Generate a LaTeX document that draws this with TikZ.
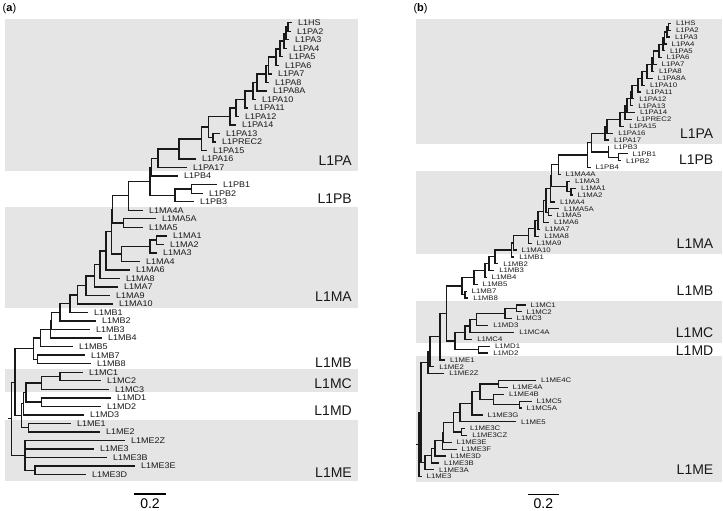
\documentclass[tikz,border=0pt]{standalone}
\usepackage{fontspec}
\setmainfont{Liberation Sans}
\newfontfamily\lblfa[FakeStretch=1.1]{Liberation Sans}
\newfontfamily\lblfb[FakeStretch=1.18]{Liberation Sans}
\definecolor{bandgray}{RGB}{229,229,229}
\definecolor{treeink}{RGB}{25,25,25}
\tikzset{
 br/.style={line width=1.4pt, draw=treeink},
 brb/.style={line width=1.25pt, draw=treeink},
 leafa/.style={anchor=west, inner xsep=6pt, inner ysep=0pt, outer sep=0pt, text=treeink, font=\lblfa\fontsize{8.2}{9}\selectfont},
 leafb/.style={anchor=west, inner xsep=5pt, inner ysep=0pt, outer sep=0pt, text=treeink, font=\lblfb\fontsize{6.6}{7}\selectfont},
 grp/.style={anchor=east, inner sep=0pt, text=treeink, font=\fontsize{14}{14}\selectfont},
 band/.style={fill=bandgray, draw=none},
 panel/.style={anchor=west, inner sep=0pt, font=\fontsize{11}{11}\selectfont},
 scl/.style={inner sep=0pt, font=\fontsize{14}{14}\selectfont},
 sbar/.style={line width=1.1pt},
}
\begin{document}
\begin{tikzpicture}[x=1pt,y=-1pt]
\fill[white] (0,0) rectangle (723,511);
\useasboundingbox (0,0) rectangle (723,511);
% ---------- bands (a)
\fill[band] (5,19) rectangle (358,170.7);
\fill[band] (5,207) rectangle (358,307.7);
\fill[band] (5,369) rectangle (358,392);
\fill[band] (5,420) rectangle (358,480.7);
% ---------- bands (b)
\fill[band] (416,19) rectangle (722,144);
\fill[band] (416,170.7) rectangle (722,254);
\fill[band] (416,300.7) rectangle (722,342.7);
\fill[band] (416,356) rectangle (722,481.7);
% ---------- panel labels
\node[panel] (pa) at (2.5,8.7) {(\textbf{a})};
\node[panel] (pb) at (413.3,8.7) {(\textbf{b})};
% ---------- group labels (a)
\node[grp] (gaPA) at (352,161) {L1PA};
\node[grp] (gaPB) at (352,199) {L1PB};
\node[grp] (gaMA) at (352,296.7) {L1MA};
\node[grp] (gaMB) at (352,362.7) {L1MB};
\node[grp] (gaMC) at (352,384) {L1MC};
\node[grp] (gaMD) at (352,410.7) {L1MD};
\node[grp] (gaME) at (352,472.7) {L1ME};
% ---------- group labels (b)
\node[grp] (gbPA) at (713.5,134) {L1PA};
\node[grp] (gbPB) at (713.5,160) {L1PB};
\node[grp] (gbMA) at (713.5,244) {L1MA};
\node[grp] (gbMB) at (713.5,290.7) {L1MB};
\node[grp] (gbMC) at (713.5,332.7) {L1MC};
\node[grp] (gbMD) at (713.5,351) {L1MD};
\node[grp] (gbME) at (713.5,469.3) {L1ME};
% ---------- scale bars
\coordinate (sa1) at (134,494); \coordinate (sa2) at (166,494);
\draw[sbar] (sa1) -- (sa2);
\node[scl] (sla) at (150,503.5) {0.2};
\coordinate (sb1) at (527.7,494.7); \coordinate (sb2) at (559,494.7);
\draw[sbar] (sb1) -- (sb2);
\node[scl] (slb) at (543.3,503.5) {0.2};
% ================= TREE (a) leaves
\foreach \n/\x/\y/\t in {
aHS/292/22.70/L1HS, aPA2/291/31.23/L1PA2, aPA3/289/39.75/L1PA3, aPA4/287/48.28/L1PA4,
aPA5/283/56.80/L1PA5, aPA6/279/65.33/L1PA6, aPA7/272/73.85/L1PA7, aPA8/269/82.38/L1PA8,
aPA8A/267/90.90/L1PA8A, aPA10/256/99.43/L1PA10, aPA11/248/107.95/L1PA11, aPA12/239/116.48/L1PA12,
aPA14/236/125.00/L1PA14, aPA13/220/133.53/L1PA13, aPREC2/216/142.05/L1PREC2, aPA15/207/150.58/L1PA15,
aPA16/196/159.10/L1PA16, aPA17/187/167.63/L1PA17, aPB4/178/176.15/L1PB4, aPB1/217/184.68/L1PB1,
aPB2/203/193.20/L1PB2, aPB3/194/201.73/L1PB3, aMA4A/143/210.25/L1MA4A, aMA5A/156/218.78/L1MA5A,
aMA5/143/227.30/L1MA5, aMA1/167/235.83/L1MA1, aMA2/164/244.35/L1MA2, aMA3/157/252.88/L1MA3,
aMA4/140/261.40/L1MA4, aMA6/130/269.93/L1MA6, aMA8/120/278.45/L1MA8, aMA7/118/286.98/L1MA7,
aMA9/110/295.50/L1MA9, aMA10/113/304.03/L1MA10, aMB1/88/312.55/L1MB1, aMB2/96/321.08/L1MB2,
aMB3/90/329.60/L1MB3, aMB4/102/338.13/L1MB4, aMB5/73/346.65/L1MB5, aMB7/85/355.18/L1MB7,
aMB8/91/363.70/L1MB8, aMC1/83/372.23/L1MC1, aMC2/101/380.75/L1MC2, aMC3/109/389.28/L1MC3,
aMD1/111/397.80/L1MD1, aMD2/101/406.33/L1MD2, aMD3/84/414.85/L1MD3, aME1/71/423.38/L1ME1,
aME2/100/431.90/L1ME2, aME2Z/125/440.43/L1ME2Z, aME3/94/448.95/L1ME3, aME3B/107/457.48/L1ME3B,
aME3E/135/466.00/L1ME3E, aME3D/86/474.53/L1ME3D}
  \node[leafa] (\n) at (\x,\y) {\t};
% internal nodes (a)
\foreach \n/\x/\y in {
aR0/8/418.79, aR/11.7/418.79, aA1/15/382.22, aE3/25/455.35, aE3DE/35/470.27,
aCDE/21.7/415.66, aCD2/23.3/403.67, aE12/28.3/427.64, aCD/26/392.48, aMC/41.7/382.89,
aMC12/60/376.49, aMD12/41.7/402.07, aMB/33.3/348.78, aMB78/37.3/359.44, aP2/40.7/338.11,
aP3/50.7/329.57, aP4/51.7/321.00, aP5/60/312.39, aP6/70/303.70, aP7/77.3/294.85,
aP8/86/285.66, aP9/94.3/275.81, aP10/100/264.63, aP11/106/250.81, aP12/111.7/231.68,
aP13/112.5/209.41, aMA5n/123.3/223.04, aMA14/121.7/253.95, aMA13/150/246.49, aMA12/156.7/240.09,
aQ/128.3/195.77, aR1/150/181.29, aPB/175/195.34, aPB12/191.7/188.94, aR2/151.7/167.23,
aN17/158/158.31, aN16/179/148.98, aN15/201.7/138.86, aN13/208.3/127.14, aREC/213/137.79,
aN14/230/116.48, aN12/236/107.96, aN11/245/99.44, aN10/253/90.92, aN8A/257/82.41,
aN8/266/73.92, aN7/268.3/65.46, aN6/276/57.07, aN5/280/48.81, aN4/284/40.82,
aN3/286/33.36, aN2/288/26.97}
  \coordinate (\n) at (\x,\y);
\draw[br] (aR0) -- (aR);
\foreach \p/\c in {
aR/aA1, aR/aE3, aE3/aME2Z, aE3/aME3, aE3/aME3B, aE3/aE3DE, aE3DE/aME3E, aE3DE/aME3D,
aA1/aMB, aA1/aCDE, aCDE/aCD2, aCDE/aE12, aE12/aME1, aE12/aME2, aCD2/aCD, aCD2/aMD3,
aCD/aMC, aCD/aMD12, aMC/aMC12, aMC/aMC3, aMC12/aMC1, aMC12/aMC2, aMD12/aMD1, aMD12/aMD2,
aMB/aMB78, aMB/aP2, aMB78/aMB7, aMB78/aMB8, aP2/aMB5, aP2/aP3, aP3/aMB4, aP3/aP4,
aP4/aMB3, aP4/aP5, aP5/aMB2, aP5/aP6, aP6/aMB1, aP6/aP7, aP7/aMA10, aP7/aP8,
aP8/aMA9, aP8/aP9, aP9/aMA7, aP9/aP10, aP10/aMA8, aP10/aP11, aP11/aMA6, aP11/aP12,
aP12/aP13, aP12/aMA14, aP13/aQ, aP13/aMA5n, aMA5n/aMA5A, aMA5n/aMA5, aMA14/aMA13, aMA14/aMA4,
aMA13/aMA12, aMA13/aMA3, aMA12/aMA1, aMA12/aMA2, aQ/aMA4A, aQ/aR1, aR1/aR2, aR1/aPB,
aPB/aPB12, aPB/aPB3, aPB12/aPB1, aPB12/aPB2, aR2/aN17, aR2/aPB4, aN17/aN16, aN17/aPA17,
aN16/aN15, aN16/aPA16, aN15/aN13, aN15/aPA15, aN13/aN14, aN13/aREC, aREC/aPA13, aREC/aPREC2,
aN14/aN12, aN14/aPA14, aN12/aN11, aN12/aPA12, aN11/aN10, aN11/aPA11, aN10/aN8A, aN10/aPA10,
aN8A/aN8, aN8A/aPA8A, aN8/aN7, aN8/aPA8, aN7/aN6, aN7/aPA7, aN6/aN5, aN6/aPA6,
aN5/aN4, aN5/aPA5, aN4/aN3, aN4/aPA4, aN3/aN2, aN3/aPA3, aN2/aHS, aN2/aPA2}
  \draw[br] (\p) |- (\c);
% ================= TREE (b) leaves
\foreach \n/\x/\y/\t in {
bHS/671/23.30/L1HS, bPA2/671/30.17/L1PA2, bPA3/670/37.04/L1PA3, bPA4/666.7/43.91/L1PA4,
bPA5/665/50.78/L1PA5, bPA6/661.7/57.65/L1PA6, bPA7/656.7/64.52/L1PA7, bPA8/654/71.39/L1PA8,
bPA8A/652.7/78.26/L1PA8A, bPA10/645/85.13/L1PA10, bPA11/641/92.00/L1PA11, bPA12/634.3/98.87/L1PA12,
bPA13/633.3/105.74/L1PA13, bPA14/635/112.61/L1PA14, bPREC2/631.7/119.48/L1PREC2, bPA15/624.3/126.35/L1PA15,
bPA16/613.3/133.22/L1PA16, bPA17/609/140.09/L1PA17, bPB3/609/146.96/L1PB3, bPB1/627.7/153.83/L1PB1,
bPB2/621/160.70/L1PB2, bPB4/590.5/167.57/L1PB4, bMA4A/560.7/174.44/L1MA4A, bMA3/570/181.31/L1MA3,
bMA1/576/188.18/L1MA1, bMA2/572.7/195.05/L1MA2, bMA4/555/201.92/L1MA4, bMA5A/559/208.79/L1MA5A,
bMA5/551.7/215.66/L1MA5, bMA6/549/222.53/L1MA6, bMA7/540/229.40/L1MA7, bMA8/539.3/236.27/L1MA8,
bMA9/531.7/243.14/L1MA9, bMA10/516.7/250.01/L1MA10, bMB1/514.3/256.88/L1MB1, bMB2/498.3/263.75/L1MB2,
bMB3/494.3/270.62/L1MB3, bMB4/486.7/277.49/L1MB4, bMB5/477.7/284.36/L1MB5, bMB7/466.7/291.23/L1MB7,
bMB8/468.3/298.10/L1MB8, bMC1/525.7/304.97/L1MC1, bMC2/521.7/311.84/L1MC2, bMC3/511.7/318.71/L1MC3,
bMD3/488.3/325.58/L1MD3, bMC4A/514.3/332.45/L1MC4A, bMC4/472.3/339.32/L1MC4, bMD1/490/346.19/L1MD1,
bMD2/488.3/353.06/L1MD2, bME1/445/359.93/L1ME1, bME2/434.3/366.80/L1ME2, bME2Z/444.3/373.67/L1ME2Z,
bME4C/536/380.54/L1ME4C, bME4A/507.7/387.41/L1ME4A, bME4B/504/394.28/L1ME4B, bMC5/531.7/401.15/L1MC5,
bMC5A/521.7/408.02/L1MC5A, bME3G/482.7/414.89/L1ME3G, bME5/516/421.76/L1ME5, bME3C/465/428.63/L1ME3C,
bME3CZ/467.3/435.50/L1ME3CZ, bME3E/451.7/442.37/L1ME3E, bME3F/456.7/449.24/L1ME3F, bME3D/445.7/456.11/L1ME3D,
bME3B/439/462.98/L1ME3B, bME3A/434/469.85/L1ME3A, bME3/421.7/476.72/L1ME3}
  \node[leafb] (\n) at (\x,\y) {\t};
% internal nodes (b)
\foreach \n/\x/\y in {
bR0/416/444.7, bR/419/444.7, bU2/421/412.75, bE2Z/428/362.7, bE2/430/351.8,
bE1/440/336.8, bMBCD/446.7/313.6, bCD/455/341.1, bCD5/465/332.66, bCD4/470/326.0,
bCD3/476.7/319.57, bMC123/505/313.56, bMC12/516.7/308.4, bMD12/478.3/349.6, bB6/462/286.1,
bB78/465/294.67, bB5/474/277.5, bB4/485/270.6, bB3/489/263.7, bB2/495/256.8,
bB1/511.7/249.88, bM9/513.3/242.88, bM8/528.3/235.75, bM7/535/228.36, bM6/538/220.45,
bM5/543.3/211.5, bM4/546/200.5, bMA5n/548.3/212.2, bM3/550.5/188.76, bM2/551.7/175.6,
bMA123/567/186.46, bMA12/571/191.6, bMAtop/558.3/164.77, bX/587.7/155.1, bY/591.7/142.66,
bPB/608.3/152.1, bPB12/618.3/157.27, bPA/605/133.22, bN16/607/126.35, bN15/620/119.48,
bN14/625/112.61, bN13/627/105.74, bN12/630.5/98.87, bN11/632/92.00, bN10/638/85.14,
bN9/642/78.28, bN8/647/71.42, bN7/652/64.58, bN6/653.5/57.76, bN5/659/51.0,
bN4/663/44.34, bN3/664.5/37.9, bN2/667/31.89, bN1/668.5/26.74,
bE11/425/462.8, bE10/431.7/455.7, bE9/435/448.5, bE8/442.3/440.8, bE7/443.3/432.3,
bE6/453.3/422.3, bE45/460/412.5, bE3C/461.7/432.1, bE4G/472/403.3, bE4/480/391.7,
bE4a/498.3/383.98, bE4b/493.3/399.4, bE5/519.3/404.6}
  \coordinate (\n) at (\x,\y);
\draw[brb] (bR0) -- (bR);
\foreach \p/\c in {
bR/bU2, bR/bME3, bU2/bE2Z, bU2/bE11, bE2Z/bE2, bE2Z/bME2Z, bE2/bE1, bE2/bME2,
bE1/bMBCD, bE1/bME1, bMBCD/bB6, bMBCD/bCD, bCD/bCD5, bCD/bMD12, bMD12/bMD1, bMD12/bMD2,
bCD5/bCD4, bCD5/bMC4, bCD4/bCD3, bCD4/bMC4A, bCD3/bMC123, bCD3/bMD3, bMC123/bMC12, bMC123/bMC3,
bMC12/bMC1, bMC12/bMC2, bB6/bB5, bB6/bB78, bB78/bMB7, bB78/bMB8, bB5/bB4, bB5/bMB5,
bB4/bB3, bB4/bMB4, bB3/bB2, bB3/bMB3, bB2/bB1, bB2/bMB2, bB1/bM9, bB1/bMB1,
bM9/bM8, bM9/bMA10, bM8/bM7, bM8/bMA9, bM7/bM6, bM7/bMA8, bM6/bM5, bM6/bMA7,
bM5/bM4, bM5/bMA6, bM4/bM3, bM4/bMA5n, bMA5n/bMA5A, bMA5n/bMA5, bM3/bM2, bM3/bMA4,
bM2/bMAtop, bM2/bMA123, bMA123/bMA3, bMA123/bMA12, bMA12/bMA1, bMA12/bMA2, bMAtop/bX, bMAtop/bMA4A,
bX/bY, bX/bPB4, bY/bPA, bY/bPB, bPB/bPB3, bPB/bPB12, bPB12/bPB1, bPB12/bPB2,
bPA/bN16, bPA/bPA17, bN16/bN15, bN16/bPA16, bN15/bN14, bN15/bPA15, bN14/bN13, bN14/bPREC2,
bN13/bN12, bN13/bPA14, bN12/bN11, bN12/bPA13, bN11/bN10, bN11/bPA12, bN10/bN9, bN10/bPA11,
bN9/bN8, bN9/bPA10, bN8/bN7, bN8/bPA8A, bN7/bN6, bN7/bPA8, bN6/bN5, bN6/bPA7,
bN5/bN4, bN5/bPA6, bN4/bN3, bN4/bPA5, bN3/bN2, bN3/bPA4, bN2/bN1, bN2/bPA3,
bN1/bHS, bN1/bPA2,
bE11/bE10, bE11/bME3A, bE10/bE9, bE10/bME3B, bE9/bE8, bE9/bME3D, bE8/bE7, bE8/bME3F,
bE7/bE6, bE7/bME3E, bE6/bE45, bE6/bE3C, bE3C/bME3C, bE3C/bME3CZ, bE45/bE4G, bE45/bME5,
bE4G/bE4, bE4G/bME3G, bE4/bE4a, bE4/bE4b, bE4a/bME4C, bE4a/bME4A, bE4b/bME4B, bE4b/bE5,
bE5/bMC5, bE5/bMC5A}
  \draw[brb] (\p) |- (\c);
\end{tikzpicture}
\end{document}
